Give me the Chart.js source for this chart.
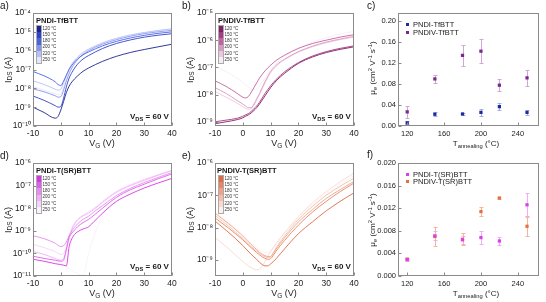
<!DOCTYPE html>
<html><head><meta charset="utf-8">
<script src="https://cdn.jsdelivr.net/npm/chart.js@4.4.1/dist/chart.umd.min.js"></script>
<style>
html,body{margin:0;padding:0;background:#fff;}
body{width:546px;height:302px;position:relative;overflow:hidden;font-family:"Liberation Sans",Arial,sans-serif;color:#1a1a1a;}
.pan{position:absolute;width:182px;}
.pan canvas{position:absolute;left:0;top:0;}
.t{position:absolute;white-space:nowrap;line-height:1;}
.lbl{font-size:10px;}
.ttl{font-size:7.5px;font-weight:bold;}
.vds{font-size:8px;font-weight:bold;}
.ax{font-size:9px;}
.axs{font-size:8px;}
.yax{transform:translate(-50%,-50%) rotate(-90deg);}
.xc{transform:translateX(-50%);}
sub{font-size:72%;vertical-align:-0.3em;line-height:0;}
sup{font-size:72%;vertical-align:0.45em;line-height:0;}
.cbar{position:absolute;width:4px;height:37.2px;outline:0.5px solid #aaa;}
.seg{position:absolute;left:0;width:4px;height:6.2px;}
.cbl{position:absolute;left:6px;font-size:4.5px;white-space:nowrap;line-height:1;color:#333;}
.leg{font-size:7.5px;}
.sq{display:inline-block;width:3px;height:3px;margin-right:4px;vertical-align:1px;}
</style></head><body>

<div class="pan" style="left:0;top:0;height:150px">
  <canvas id="ca" width="182" height="150"></canvas>
  <div class="t lbl" style="left:0;top:1px">a)</div>
  <div class="t ttl" style="left:36px;top:17px">PNDI-TfBTT</div>
  <div class="cbar" id="cba" style="left:36.5px;top:26px"></div>
  <div class="t vds" style="left:130px;top:113px">V<sub>DS</sub> = 60 V</div>
  <div class="t ax xc" style="left:102px;top:139px">V<sub>G</sub> (V)</div>
  <div class="t ax yax" style="left:8px;top:70px">I<sub>DS</sub> (A)</div>
</div>

<div class="pan" style="left:182px;top:0;height:150px">
  <canvas id="cb" width="182" height="150"></canvas>
  <div class="t lbl" style="left:0;top:1px">b)</div>
  <div class="t ttl" style="left:36px;top:17px">PNDIV-TfBTT</div>
  <div class="cbar" id="cbb" style="left:36.5px;top:26px"></div>
  <div class="t vds" style="left:130px;top:113px">V<sub>DS</sub> = 60 V</div>
  <div class="t ax xc" style="left:102px;top:139px">V<sub>G</sub> (V)</div>
  <div class="t ax yax" style="left:8px;top:70px">I<sub>DS</sub> (A)</div>
</div>

<div class="pan" style="left:364px;top:0;height:150px">
  <canvas id="cc" width="182" height="150"></canvas>
  <div class="t lbl" style="left:3px;top:1px">c)</div>
  <div class="t leg" id="legc1" style="left:42px;top:21px"></div>
  <div class="t leg" id="legc2" style="left:42px;top:28.5px"></div>
  <div class="t axs xc" style="left:112px;top:140px">T<sub>annealing</sub> (°C)</div>
  <div class="t axs yax" style="left:9px;top:68px">μ<sub>e</sub> (cm<sup>2</sup> V<sup>-1</sup> s<sup>-1</sup>)</div>
</div>

<div class="pan" style="left:0;top:150px;height:152px">
  <canvas id="cd" width="182" height="152"></canvas>
  <div class="t lbl" style="left:0;top:1px">d)</div>
  <div class="t ttl" style="left:36px;top:17px">PNDI-T(SR)BTT</div>
  <div class="cbar" id="cbd" style="left:36.5px;top:26px"></div>
  <div class="t vds" style="left:130px;top:113px">V<sub>DS</sub> = 60 V</div>
  <div class="t ax xc" style="left:102px;top:139px">V<sub>G</sub> (V)</div>
  <div class="t ax yax" style="left:8px;top:70px">I<sub>DS</sub> (A)</div>
</div>

<div class="pan" style="left:182px;top:150px;height:152px">
  <canvas id="ce" width="182" height="152"></canvas>
  <div class="t lbl" style="left:0;top:1px">e)</div>
  <div class="t ttl" style="left:35px;top:17px">PNDIV-T(SR)BTT</div>
  <div class="cbar" id="cbe" style="left:36.5px;top:26px"></div>
  <div class="t vds" style="left:130px;top:113px">V<sub>DS</sub> = 60 V</div>
  <div class="t ax xc" style="left:102px;top:139px">V<sub>G</sub> (V)</div>
  <div class="t ax yax" style="left:8px;top:70px">I<sub>DS</sub> (A)</div>
</div>

<div class="pan" style="left:364px;top:150px;height:152px">
  <canvas id="cf" width="182" height="152"></canvas>
  <div class="t lbl" style="left:3px;top:0px">f)</div>
  <div class="t leg" id="legf1" style="left:42px;top:21px"></div>
  <div class="t leg" id="legf2" style="left:42px;top:28px"></div>
  <div class="t axs xc" style="left:112px;top:140px">T<sub>annealing</sub> (°C)</div>
  <div class="t axs yax" style="left:9px;top:70px">μ<sub>e</sub> (cm<sup>2</sup> V<sup>-1</sup> s<sup>-1</sup>)</div>
</div>

<script>
// ---------- DATA ----------
const TEMPS = [120, 150, 180, 200, 220, 250];

// Panel a: PNDI-TfBTT transfer curves
const VG_A = [-10,-6,-2,-1,0,1,2,3,4,6,8,10,15,20,25,30,35,40];
const A_120 = [1.0e-9,5.2e-10,2.6e-10,3.2e-10,7e-10,2e-9,6e-9,1.3e-8,2.2e-8,4.5e-8,8e-8,1.2e-7,2.7e-7,5e-7,8e-7,1.15e-6,1.6e-6,2.2e-6];
const A_150 = [3.9e-9,2.3e-9,1.2e-9,1.0e-9,1.1e-9,3e-9,1.2e-8,3.5e-8,7e-8,1.9e-7,3.6e-7,5.5e-7,1.3e-6,2.4e-6,3.7e-6,5.2e-6,6.6e-6,8e-6];
const A_180 = [7.8e-8,4.6e-8,2.2e-8,1.6e-8,1.4e-8,2.4e-8,5e-8,1e-7,1.7e-7,3.6e-7,6e-7,8.5e-7,1.8e-6,3.1e-6,4.7e-6,6.5e-6,8.3e-6,1.0e-5];
const A_200 = [9.3e-9,6.5e-9,4e-9,3.4e-9,3.6e-9,8e-9,2.5e-8,6e-8,1.2e-7,3.3e-7,6.3e-7,1e-6,2.2e-6,3.8e-6,5.8e-6,8e-6,1.0e-5,1.2e-5];
const A_220 = [2.5e-8,1.6e-8,9e-9,8e-9,9e-9,2e-8,5e-8,1.1e-7,2e-7,4.5e-7,8e-7,1.2e-6,2.6e-6,4.5e-6,6.8e-6,9.2e-6,1.18e-5,1.45e-5];
const A_250 = [1.2e-8,8e-9,5e-9,4.5e-9,5e-9,1.2e-8,3.5e-8,8e-8,1.6e-7,4e-7,7.5e-7,1.15e-6,2.5e-6,4.4e-6,6.6e-6,9e-6,1.15e-5,1.4e-5];

// Panel b: PNDIV-TfBTT transfer curves
const VG_B = [-10,-6,-2,0,1,2,3,4,5,6,8,10,12,15,20,25,30,35,40];
const B_120 = [8.5e-10,1.0e-9,1.2e-9,1.4e-9,1.6e-9,1.8e-9,2.1e-9,2.6e-9,3.3e-9,4.5e-9,9e-9,1.8e-8,3.2e-8,6e-8,1.4e-7,2.4e-7,3.5e-7,4.6e-7,5.7e-7];
const B_150 = [1.0e-9,1.15e-9,1.35e-9,1.6e-9,1.8e-9,2.0e-9,2.4e-9,3e-9,3.8e-9,5.2e-9,1.1e-8,2.1e-8,3.6e-8,6.8e-8,1.5e-7,2.6e-7,3.8e-7,5e-7,6.2e-7];
const B_180 = [3.2e-8,2e-8,1.1e-8,8e-9,7.5e-9,8.5e-9,1.2e-8,1.8e-8,2.7e-8,4e-8,7.5e-8,1.2e-7,1.8e-7,2.8e-7,5e-7,7.5e-7,1e-6,1.3e-6,1.6e-6];
const B_200 = [1.8e-8,1.1e-8,6e-9,4.5e-9,3.8e-9,3.3e-9,3.3e-9,4.5e-9,7e-9,1.1e-8,3e-8,7e-8,1.2e-7,2e-7,3.8e-7,6e-7,8.5e-7,1.1e-6,1.4e-6];
const B_220 = [1.3e-8,8e-9,4.8e-9,3.6e-9,3.1e-9,2.9e-9,3e-9,4e-9,6.2e-9,1e-8,2.7e-8,6.3e-8,1.1e-7,1.9e-7,3.6e-7,5.7e-7,8e-7,1.05e-6,1.3e-6];
const B_250 = [1.1e-7,7e-8,4e-8,2.8e-8,2.3e-8,1.9e-8,1.6e-8,1.5e-8,1.6e-8,2e-8,4e-8,8e-8,1.4e-7,2.5e-7,5e-7,8.5e-7,1.25e-6,1.7e-6,2.1e-6];

// Panel d: PNDI-T(SR)BTT transfer curves
const VG_D = [-10,-6,-2,0,1,2,3,4,5,6,8,10,12,15,20,25,30,35,40];
const D_120 = [5.5e-11,4.5e-11,3.5e-11,3.2e-11,3.0e-11,2.8e-11,2e-10,4.5e-10,7e-10,9e-10,1.2e-9,1.5e-9,2.6e-9,6e-9,2e-8,4.2e-8,7.8e-8,1.3e-7,2.1e-7];
const D_150 = [7.5e-11,6e-11,5e-11,4.5e-11,5e-11,1.5e-10,5e-10,8e-10,1.1e-9,1.5e-9,2.3e-9,3.2e-9,5e-9,1e-8,3e-8,6.5e-8,1.15e-7,2e-7,3.3e-7];
const D_180 = [6e-10,4.5e-10,2.8e-10,2.0e-10,2.2e-10,3.2e-10,6e-10,1e-9,1.5e-9,2e-9,3.2e-9,4.4e-9,7e-9,1.3e-8,3.6e-8,7.5e-8,1.35e-7,2.3e-7,3.8e-7];
const D_200 = [1.2e-10,9e-11,6e-11,5e-11,6e-11,1.5e-10,5e-10,1.2e-9,2e-9,3e-9,4.5e-9,6e-9,9e-9,1.8e-8,5e-8,1e-7,1.7e-7,2.9e-7,4.7e-7];
const D_220 = [2.5e-10,1.8e-10,1.2e-10,9e-11,1e-10,2e-10,6e-10,1.3e-9,2.2e-9,3.2e-9,5e-9,7e-9,1e-8,2e-8,5.5e-8,1.1e-7,1.9e-7,3e-7,4.8e-7];
const D_250 = [1.5e-10,9e-11,5e-11,3.8e-11,3.2e-11,2.7e-11,2.2e-11,1.8e-11,1.5e-11,1.3e-11,1.1e-11,1e-10,6e-10,5e-9,3e-8,8e-8,1.6e-7,2.8e-7,4.5e-7];

// Panel e: PNDIV-T(SR)BTT transfer curves
const VG_E = [-10,-5,0,3,5,6,7,8,9,10,11,12,15,20,25,30,35,40];
const E_120 = [1.6e-8,7e-9,2.8e-9,1.5e-9,1.05e-9,8.5e-10,7.2e-10,6.6e-10,6.6e-10,7.5e-10,9e-10,1.1e-9,2.2e-9,6.5e-9,1.5e-8,3.3e-8,6.5e-8,1.2e-7];
const E_150 = [2e-8,9.5e-9,4.2e-9,2.4e-9,1.7e-9,1.45e-9,1.25e-9,1.12e-9,1.05e-9,1.1e-9,1.4e-9,1.9e-9,4e-9,1.2e-8,3e-8,6.5e-8,1.3e-7,2.4e-7];
const E_180 = [2.8e-8,1.3e-8,5.5e-9,3e-9,2.1e-9,1.75e-9,1.5e-9,1.35e-9,1.28e-9,1.26e-9,1.6e-9,2.2e-9,4.8e-9,1.5e-8,3.6e-8,8e-8,1.5e-7,2.7e-7];
const E_200 = [2.4e-8,1.1e-8,4.6e-9,2.6e-9,1.9e-9,1.6e-9,1.4e-9,1.25e-9,1.2e-9,1.3e-9,1.7e-9,2.4e-9,5.5e-9,1.8e-8,4.5e-8,1e-7,1.9e-7,3.4e-7];
const E_220 = [5e-9,2.2e-9,9e-10,5.8e-10,5e-10,5.2e-10,6.5e-10,9e-10,1.3e-9,1.8e-9,2.5e-9,3.3e-9,7e-9,2.2e-8,5.8e-8,1.3e-7,2.6e-7,4.9e-7];
const E_250 = [3e-8,1.4e-8,6e-9,3.3e-9,2.4e-9,2e-9,1.8e-9,1.7e-9,1.7e-9,1.8e-9,2.3e-9,3e-9,6.5e-9,2e-8,5e-8,1.1e-7,2.2e-7,4e-7];

// Panel c: mobility (cm2/Vs) vs annealing temperature
const T_ANNEAL = [120, 150, 180, 200, 220, 250];
const MU_PNDI_TfBTT = [0.006, 0.0225, 0.023, 0.026, 0.037, 0.026];
const ERR_PNDI_TfBTT = [0.003, 0.004, 0.002, 0.006, 0.007, 0.005];
const MU_PNDIV_TfBTT = [0.027, 0.090, 0.135, 0.143, 0.078, 0.092];
const ERR_PNDIV_TfBTT = [0.011, 0.008, 0.020, 0.023, 0.011, 0.015];

// Panel f
const MU_PNDI_TSRBTT = [0.0029, 0.0071, 0.0064, 0.0068, 0.0062, 0.0126];
const ERR_PNDI_TSRBTT = [0.0002, 0.0008, 0.0007, 0.0011, 0.0007, 0.0021];
const MU_PNDIV_TSRBTT = [0.0030, 0.0070, 0.0065, 0.0114, 0.0138, 0.0088];
const ERR_PNDIV_TSRBTT = [0.0002, 0.0017, 0.0011, 0.0008, 0.0002, 0.0018];

// Tick values / labels
const VG_TICKS = [-10, 0, 10, 20, 30, 40];
const T_TICKS = [120, 160, 200, 240];
const YT_A = [1e-10,1e-9,1e-8,1e-7,1e-6,1e-5,1e-4];
const YL_A = ['10⁻¹⁰','10⁻⁹','10⁻⁸','10⁻⁷','10⁻⁶','10⁻⁵','10⁻⁴'];
const YT_B = [1e-9,1e-8,1e-7,1e-6,1e-5];
const YL_B = ['10⁻⁹','10⁻⁸','10⁻⁷','10⁻⁶','10⁻⁵'];
const YT_D = [1e-11,1e-10,1e-9,1e-8,1e-7,1e-6];
const YL_D = ['10⁻¹¹','10⁻¹⁰','10⁻⁹','10⁻⁸','10⁻⁷','10⁻⁶'];
const YT_E = [1e-9,1e-8,1e-7,1e-6];
const YL_E = ['10⁻⁹','10⁻⁸','10⁻⁷','10⁻⁶'];
const YT_C = [0, 0.04, 0.08, 0.12, 0.16, 0.20];
const YL_C = ['0.00','0.04','0.08','0.12','0.16','0.20'];
const YT_F = [0, 0.004, 0.008, 0.012, 0.016, 0.020];
const YL_F = ['0.000','0.004','0.008','0.012','0.016','0.020'];

// ---------- STYLE ----------
const FONT = '"Liberation Sans", Arial, sans-serif';
const COL_BLUE = ['#1a2590','#2f42cc','#4a62e4','#8696ef','#b6c0f6','#e3e7fc'];
const COL_PURP = ['#801f62','#a63a84','#c463a3','#db98c4','#ecc8e0','#f8ecf4'];
const COL_MAG  = ['#d935e4','#e060eb','#e88af2','#efb1f6','#f5d4fa','#fbf0fd'];
const COL_ORNG = ['#e06a45','#e88664','#eea388','#f3bfab','#f8dad0','#fcf0ec'];

const framePlugin = {
  id: 'frameTicks',
  afterDatasetsDraw(c) {
    const a = c.chartArea, ctx = c.ctx;
    const L = Math.round(a.left) + 0.5, R = Math.round(a.right) - 0.5;
    const T = Math.round(a.top) + 0.5, B = Math.round(a.bottom) - 0.5;
    ctx.save();
    ctx.strokeStyle = '#8a8a8a'; ctx.lineWidth = 1;
    ctx.strokeRect(L, T, R - L, B - T);
    ctx.beginPath();
    c.scales.x.ticks.forEach(t => { const x = Math.round(c.scales.x.getPixelForValue(t.value)) + 0.5; ctx.moveTo(x, B); ctx.lineTo(x, B - 3); });
    c.scales.y.ticks.forEach(t => { const y = Math.round(c.scales.y.getPixelForValue(t.value)) + 0.5; ctx.moveTo(L, y); ctx.lineTo(L + 3, y); });
    ctx.stroke();
    ctx.restore();
  }
};

const errPlugin = {
  id: 'errBars',
  beforeDatasetsDraw(c) {
    const ctx = c.ctx, xs = c.scales.x, ys = c.scales.y;
    c.data.datasets.forEach(ds => {
      if (!ds.errors) return;
      ctx.save(); ctx.strokeStyle = ds.errColor; ctx.lineWidth = 1;
      ds.data.forEach((p, j) => {
        const e = ds.errors[j];
        const x = Math.round(xs.getPixelForValue(p.x)) + 0.5;
        const y1 = Math.round(ys.getPixelForValue(p.y + e)) + 0.5, y2 = Math.round(ys.getPixelForValue(p.y - e)) + 0.5;
        ctx.beginPath();
        ctx.moveTo(x, y1); ctx.lineTo(x, y2);
        ctx.moveTo(x - 2, y1); ctx.lineTo(x + 2, y1);
        ctx.moveTo(x - 2, y2); ctx.lineTo(x + 2, y2);
        ctx.stroke();
      });
      ctx.restore();
    });
  }
};

function axes(xOpt, yOpt) {
  return {
    x: {
      type: 'linear', min: xOpt.min, max: xOpt.max,
      afterBuildTicks: s => { s.ticks = xOpt.ticks.map(v => ({ value: v })); },
      ticks: { font: { size: xOpt.fs, family: FONT }, color: '#222', padding: xOpt.pad, maxRotation: 0, autoSkip: false, callback: v => String(v) },
      grid: { display: false, drawTicks: false },
      border: { display: false },
      afterFit: s => { s.height = xOpt.h; }
    },
    y: {
      type: yOpt.type, min: yOpt.min, max: yOpt.max,
      afterBuildTicks: s => { s.ticks = yOpt.ticks.map(v => ({ value: v })); },
      ticks: { font: { size: yOpt.fs, family: FONT }, color: '#222', padding: 2, autoSkip: false, callback: (v, i) => yOpt.labels[i] },
      grid: { display: false, drawTicks: false },
      border: { display: false },
      afterFit: s => { s.width = yOpt.w; }
    }
  };
}

function transfer(id, vg, series, colors, yT, yL, yMin, yMax, ch, padR) {
  new Chart(document.getElementById(id), {
    type: 'line',
    data: {
      datasets: series.map((s, i) => ({
        label: TEMPS[i] + ' °C',
        data: vg.map((v, j) => ({ x: v, y: s[j] })),
        borderColor: colors[i], borderWidth: 0.9, pointRadius: 0, fill: false,
        cubicInterpolationMode: 'monotone'
      }))
    },
    options: {
      responsive: false, animation: false, devicePixelRatio: 1,
      layout: { padding: { left: 0, top: 13, right: padR, bottom: 0 } },
      plugins: { legend: { display: false }, tooltip: { enabled: false } },
      scales: axes({ ticks: VG_TICKS, min: -10, max: 40, fs: 8.5, pad: 3, h: ch - 126 },
                   { type: 'logarithmic', min: yMin, max: yMax, ticks: yT, labels: yL, fs: 8.5, w: 33 })
    },
    plugins: [framePlugin]
  });
}

function mobility(id, sets, yT, yL, yMax, ch) {
  new Chart(document.getElementById(id), {
    type: 'scatter',
    data: {
      datasets: sets.map(s => ({
        label: s.label,
        data: T_ANNEAL.map((t, j) => ({ x: t, y: s.mu[j] })),
        errors: s.err, errColor: s.errColor,
        backgroundColor: s.color, borderColor: s.color, borderWidth: 0,
        pointStyle: 'rect', pointRadius: 2.3
      }))
    },
    options: {
      responsive: false, animation: false, devicePixelRatio: 1,
      layout: { padding: { left: 0, top: 13, right: 7, bottom: 0 } },
      plugins: { legend: { display: false }, tooltip: { enabled: false } },
      scales: axes({ ticks: T_TICKS, min: 110, max: 263, fs: 7.5, pad: 3, h: ch - 126 },
                   { type: 'linear', min: 0, max: yMax, ticks: yT, labels: yL, fs: 7.5, w: 34 })
    },
    plugins: [errPlugin, framePlugin]
  });
  sets.forEach(s => {
    const el = document.getElementById(s.legId);
    const sq = document.createElement('span'); sq.className = 'sq'; sq.style.background = s.color;
    el.appendChild(sq); el.appendChild(document.createTextNode(s.label));
  });
}

function colorbar(id, colors) {
  const el = document.getElementById(id);
  TEMPS.forEach((t, i) => {
    const s = document.createElement('div'); s.className = 'seg';
    s.style.background = colors[i]; s.style.top = (i * 6.2) + 'px'; el.appendChild(s);
    const l = document.createElement('div'); l.className = 'cbl';
    l.style.top = (i * 6.2 + 0.8) + 'px'; l.textContent = t + ' °C'; el.appendChild(l);
  });
}

transfer('ca', VG_A, [A_120, A_150, A_180, A_200, A_220, A_250], COL_BLUE, YT_A, YL_A, 1e-10, 1e-4, 150, 10);
transfer('cb', VG_B, [B_120, B_150, B_180, B_200, B_220, B_250], COL_PURP, YT_B, YL_B, 7.3e-10, 1e-5, 150, 10);
transfer('cd', VG_D, [D_120, D_150, D_180, D_200, D_220, D_250], COL_MAG, YT_D, YL_D, 1e-11, 1e-6, 152, 10);
transfer('ce', VG_E, [E_120, E_150, E_180, E_200, E_220, E_250], COL_ORNG, YT_E, YL_E, 3.2e-10, 1e-6, 152, 10);

mobility('cc', [
  { label: 'PNDI-TfBTT', mu: MU_PNDI_TfBTT, err: ERR_PNDI_TfBTT, color: '#1d2aa6', errColor: '#a9afd6', legId: 'legc1' },
  { label: 'PNDIV-TfBTT', mu: MU_PNDIV_TfBTT, err: ERR_PNDIV_TfBTT, color: '#7a2a8c', errColor: '#cfa8d6', legId: 'legc2' }
], YT_C, YL_C, 0.216, 150);
mobility('cf', [
  { label: 'PNDI-T(SR)BTT', mu: MU_PNDI_TSRBTT, err: ERR_PNDI_TSRBTT, color: '#dc3ff0', errColor: '#f0aef7', legId: 'legf1' },
  { label: 'PNDIV-T(SR)BTT', mu: MU_PNDIV_TSRBTT, err: ERR_PNDIV_TSRBTT, color: '#e8703f', errColor: '#f4b59c', legId: 'legf2' }
], YT_F, YL_F, 0.020, 152);

colorbar('cba', COL_BLUE);
colorbar('cbb', COL_PURP);
colorbar('cbd', COL_MAG);
colorbar('cbe', COL_ORNG);
</script>
</body></html>
